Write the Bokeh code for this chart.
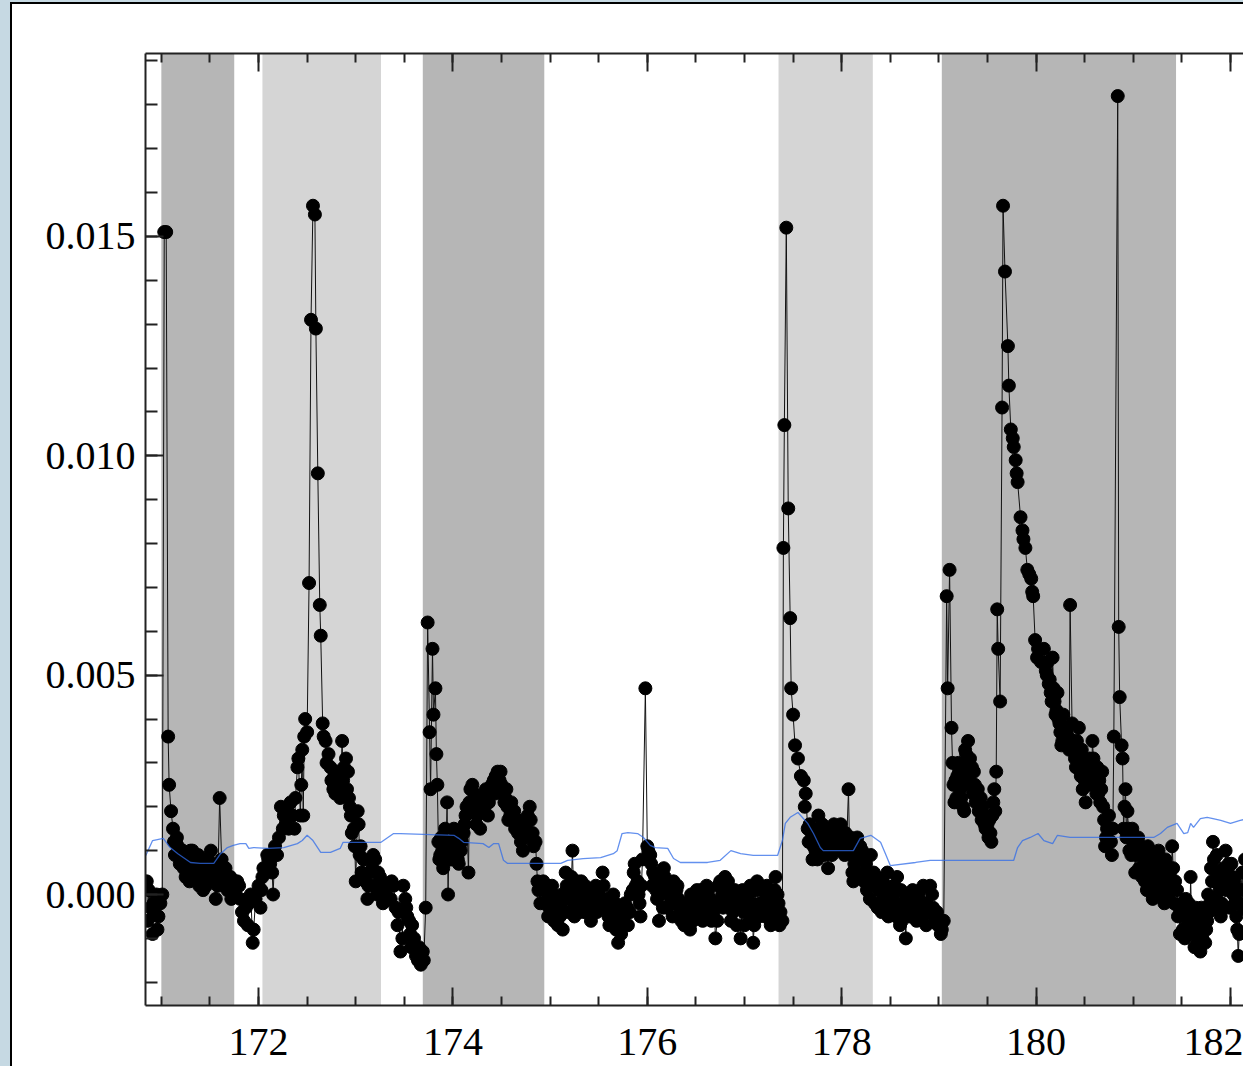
import numpy as np
from bokeh.plotting import figure
from bokeh.layouts import column, row
from bokeh.models import (BoxAnnotation, LinearAxis, Range1d, FixedTicker, Div,
                          PrintfTickFormatter, CustomJSTickFormatter, ColumnDataSource)
from bokeh.embed import file_html
from bokeh.resources import INLINE

# ---------------- data ----------------
# time (day) and flux values of the black series
series = [
    (170.85, 0.0003), (170.87, 0.0001), (170.89, -0.0003), (170.91, -0.0009), (170.93, -0.0004),
    (170.95, 0.0000), (170.97, -0.0005), (170.99, -0.0002), (171.01, 0.0000), (171.03, 0.0151),
    (171.05, 0.0151), (171.07, 0.0036), (171.08, 0.0025), (171.10, 0.0019), (171.12, 0.0015),
    (171.13, 0.0012), (171.15, 0.0012), (171.17, 0.0011), (171.20, 0.0009), (171.21, 0.0008),
    (171.23, 0.0006), (171.25, 0.0004), (171.28, 0.0008), (171.30, 0.0010), (171.32, 0.0010),
    (171.33, 0.0005), (171.36, 0.0007), (171.38, 0.0009), (171.40, 0.0006), (171.43, 0.0001),
    (171.45, 0.0004), (171.48, 0.0008), (171.51, 0.0010), (171.53, 0.0005), (171.56, -0.0001),
    (171.58, 0.0002), (171.60, 0.0022), (171.62, 0.0008), (171.64, 0.0003), (171.66, 0.0006),
    (171.68, 0.0001), (171.71, 0.0004), (171.74, 0.0000), (171.76, 0.0001), (171.78, 0.0003),
    (171.81, -0.0001), (171.83, -0.0004), (171.85, -0.0006), (171.89, -0.0007), (171.92, 0.0000),
    (171.94, -0.0011), (171.95, -0.0008), (171.97, -0.0001), (172.00, 0.0002), (172.02, -0.0003),
    (172.04, 0.0004), (172.05, 0.0006), (172.09, 0.0009), (172.10, 0.0008), (172.14, 0.0005),
    (172.15, 0.0000), (172.17, 0.0011), (172.21, 0.0013), (172.23, 0.0020), (172.26, 0.0018),
    (172.28, 0.0016), (172.31, 0.0015), (172.35, 0.0018), (172.38, 0.0022), (172.40, 0.0029),
    (172.41, 0.0031), (172.43, 0.0018), (172.46, 0.0018), (172.47, 0.0036), (172.48, 0.0040),
    (172.50, 0.0037), (172.52, 0.0071), (172.54, 0.0131), (172.56, 0.0157), (172.58, 0.0155),
    (172.59, 0.0129), (172.61, 0.0096), (172.63, 0.0066), (172.64, 0.0059), (172.66, 0.0039),
    (172.67, 0.0036), (172.69, 0.0035), (172.72, 0.0032), (172.74, 0.0029), (172.77, 0.0024),
    (172.79, 0.0023), (172.81, 0.0028), (172.84, 0.0022), (172.86, 0.0035), (172.87, 0.0026),
    (172.90, 0.0031), (172.92, 0.0028), (172.93, 0.0022), (172.95, 0.0018), (172.98, 0.0015),
    (173.00, 0.0003), (173.02, 0.0019), (173.03, 0.0016), (173.05, 0.0011), (173.08, 0.0008),
    (173.12, -0.0001), (173.15, 0.0005), (173.18, 0.0009), (173.20, 0.0008), (173.23, 0.0005),
    (173.26, 0.0003), (173.29, 0.0000), (173.31, 0.0002), (173.34, -0.0001), (173.37, 0.0003),
    (173.39, 0.0002), (173.41, -0.0003), (173.43, -0.0007), (173.46, -0.0013), (173.49, 0.0002),
    (173.51, -0.0001), (173.53, -0.0005), (173.56, -0.0009), (173.58, -0.0007), (173.60, -0.0010),
    (173.62, -0.0014), (173.65, -0.0012), (173.67, -0.0016), (173.70, -0.0015), (173.72, -0.0003),
    (173.74, 0.0062), (173.76, 0.0037), (173.77, 0.0024), (173.79, 0.0056), (173.80, 0.0041),
    (173.82, 0.0047), (173.83, 0.0032), (173.84, 0.0025), (173.85, 0.0012), (173.87, 0.0009),
    (173.89, 0.0010), (173.92, 0.0015), (173.94, 0.0021), (173.95, 0.0000), (173.97, 0.0008),
    (173.99, 0.0008), (174.01, 0.0015), (174.03, 0.0011), (174.05, 0.0008), (174.06, 0.0007),
    (174.09, 0.0012), (174.11, 0.0014), (174.13, 0.0018), (174.16, 0.0005), (174.18, 0.0024),
    (174.21, 0.0021), (174.23, 0.0019), (174.25, 0.0018), (174.28, 0.0015), (174.31, 0.0021),
    (174.33, 0.0022), (174.36, 0.0018), (174.39, 0.0023), (174.42, 0.0026), (174.44, 0.0027),
    (174.46, 0.0028), (174.49, 0.0028), (174.52, 0.0024), (174.54, 0.0022), (174.56, 0.0020),
    (174.59, 0.0018), (174.62, 0.0017), (174.64, 0.0015), (174.67, 0.0014), (174.70, 0.0012),
    (174.72, 0.0010), (174.75, 0.0016), (174.79, 0.0020), (174.82, 0.0014), (174.85, 0.0012),
    (174.87, 0.0003), (174.88, 0.0001), (174.91, 0.0002), (174.93, 0.0003), (174.97, -0.0001),
    (174.98, -0.0005), (175.01, -0.0002), (175.03, 0.0000), (175.06, -0.0004), (175.08, -0.0007),
    (175.11, -0.0003), (175.13, -0.0008), (175.16, 0.0005), (175.18, -0.0001), (175.21, 0.0002),
    (175.23, 0.0010), (175.24, 0.0001), (175.26, -0.0002), (175.28, 0.0003), (175.31, 0.0001),
    (175.33, -0.0001), (175.36, 0.0002), (175.39, -0.0002), (175.42, -0.0006), (175.45, -0.0001),
    (175.48, -0.0004), (175.50, 0.0000), (175.54, 0.0005), (175.57, -0.0003), (175.60, -0.0005),
    (175.62, -0.0002), (175.65, 0.0000), (175.68, -0.0008), (175.70, -0.0011), (175.72, -0.0007),
    (175.74, -0.0004), (175.77, -0.0002), (175.80, -0.0007), (175.83, 0.0000), (175.86, 0.0005),
    (175.88, 0.0002), (175.91, 0.0000), (175.93, -0.0005), (175.95, 0.0008), (175.98, 0.0047),
    (176.00, 0.0011), (176.01, 0.0010), (176.04, 0.0007), (176.06, 0.0005), (176.09, 0.0001),
    (176.12, -0.0006), (176.14, 0.0003), (176.17, 0.0006), (176.19, 0.0002), (176.21, 0.0000),
    (176.24, -0.0002), (176.27, 0.0003), (176.30, 0.0001), (176.32, -0.0001), (176.35, -0.0006),
    (176.37, -0.0004), (176.40, -0.0002), (176.44, -0.0008), (176.46, -0.0005), (176.48, -0.0002),
    (176.51, 0.0001), (176.53, 0.0000), (176.56, -0.0002), (176.58, -0.0004), (176.61, 0.0002),
    (176.65, -0.0001), (176.68, -0.0004), (176.70, -0.0010), (176.73, 0.0002), (176.77, 0.0000),
    (176.80, 0.0004), (176.82, 0.0001), (176.84, -0.0001), (176.88, -0.0004), (176.91, -0.0002),
    (176.93, 0.0000), (176.96, -0.0010), (176.99, -0.0004), (177.02, -0.0001), (177.04, 0.0000),
    (177.07, -0.0005), (177.09, -0.0011), (177.11, -0.0003), (177.13, 0.0003), (177.16, -0.0002),
    (177.19, 0.0001), (177.22, 0.0000), (177.24, -0.0003), (177.27, -0.0007), (177.30, -0.0002),
    (177.32, 0.0004), (177.35, -0.0002), (177.37, -0.0004), (177.39, -0.0006), (177.40, 0.0079),
    (177.41, 0.0107), (177.43, 0.0152), (177.45, 0.0088), (177.47, 0.0063), (177.48, 0.0047),
    (177.50, 0.0041), (177.52, 0.0034), (177.55, 0.0031), (177.58, 0.0027), (177.61, 0.0026),
    (177.62, 0.0020), (177.65, 0.0015), (177.66, 0.0012), (177.69, 0.0014), (177.71, 0.0011),
    (177.73, 0.0010), (177.75, 0.0008), (177.76, 0.0018), (177.78, 0.0015), (177.81, 0.0013),
    (177.83, 0.0011), (177.86, 0.0006), (177.88, 0.0013), (177.90, 0.0009), (177.92, 0.0016),
    (177.94, 0.0013), (177.96, 0.0012), (177.99, 0.0016), (178.02, 0.0013), (178.05, 0.0011),
    (178.07, 0.0024), (178.09, 0.0013), (178.11, 0.0005), (178.12, 0.0003), (178.14, 0.0010),
    (178.16, 0.0013), (178.19, 0.0011), (178.22, 0.0008), (178.24, 0.0005), (178.26, 0.0001),
    (178.30, 0.0009), (178.33, 0.0005), (178.35, 0.0002), (178.37, -0.0003), (178.40, 0.0002),
    (178.43, 0.0000), (178.45, -0.0002), (178.47, 0.0005), (178.50, -0.0004), (178.53, 0.0000),
    (178.55, -0.0002), (178.57, 0.0004), (178.60, -0.0007), (178.63, -0.0003), (178.66, -0.0010),
    (178.69, 0.0000), (178.72, -0.0002), (178.74, -0.0004), (178.79, -0.0001), (178.82, -0.0003),
    (178.84, 0.0002), (178.88, -0.0004), (178.91, 0.0002), (178.94, -0.0003), (178.97, -0.0005),
    (178.99, -0.0007), (179.02, -0.0009), (179.05, -0.0006), (179.08, 0.0068), (179.09, 0.0047),
    (179.11, 0.0074), (179.13, 0.0038), (179.14, 0.0030), (179.16, 0.0021), (179.17, 0.0026),
    (179.20, 0.0030), (179.22, 0.0024), (179.25, 0.0020), (179.30, 0.0035), (179.32, 0.0031),
    (179.36, 0.0028), (179.40, 0.0024), (179.43, 0.0022), (179.46, 0.0018), (179.50, 0.0016),
    (179.53, 0.0014), (179.56, 0.0021), (179.58, 0.0019), (179.59, 0.0028), (179.60, 0.0065),
    (179.61, 0.0056), (179.63, 0.0044), (179.65, 0.0111), (179.66, 0.0157), (179.68, 0.0142),
    (179.71, 0.0125), (179.72, 0.0116), (179.74, 0.0106), (179.76, 0.0104), (179.77, 0.0102),
    (179.79, 0.0099), (179.80, 0.0096), (179.81, 0.0094), (179.84, 0.0086), (179.86, 0.0083),
    (179.87, 0.0081), (179.89, 0.0079), (179.91, 0.0074), (179.93, 0.0073), (179.95, 0.0072),
    (179.96, 0.0069), (179.97, 0.0068), (179.99, 0.0058), (180.01, 0.0054), (180.02, 0.0056),
    (180.05, 0.0053), (180.08, 0.0056), (180.10, 0.0051), (180.12, 0.0053), (180.13, 0.0048),
    (180.17, 0.0054), (180.18, 0.0047), (180.20, 0.0041), (180.22, 0.0046), (180.23, 0.0040),
    (180.25, 0.0037), (180.27, 0.0035), (180.28, 0.0041), (180.30, 0.0037), (180.32, 0.0038),
    (180.35, 0.0066), (180.37, 0.0039), (180.38, 0.0035), (180.40, 0.0031), (180.44, 0.0038),
    (180.45, 0.0030), (180.48, 0.0024), (180.49, 0.0031), (180.51, 0.0021), (180.53, 0.0029),
    (180.56, 0.0028), (180.58, 0.0035), (180.59, 0.0031), (180.61, 0.0025), (180.63, 0.0029),
    (180.64, 0.0023), (180.68, 0.0028), (180.69, 0.0020), (180.71, 0.0011), (180.73, 0.0015),
    (180.76, 0.0015), (180.79, 0.0015), (180.80, 0.0036), (180.84, 0.0182), (180.85, 0.0061),
    (180.86, 0.0045), (180.88, 0.0034), (180.89, 0.0031), (180.90, 0.0015), (180.92, 0.0024),
    (180.94, 0.0019), (180.95, 0.0015), (180.97, 0.0013), (181.00, 0.0013), (181.02, 0.0005),
    (181.04, 0.0011), (181.07, 0.0009), (181.10, 0.0006), (181.15, 0.0011), (181.18, 0.0005),
    (181.20, -0.0001), (181.23, 0.0009), (181.26, 0.0010), (181.28, 0.0005), (181.31, 0.0003),
    (181.33, 0.0008), (181.35, 0.0006), (181.36, 0.0000), (181.38, 0.0004), (181.40, 0.0011),
    (181.43, 0.0003), (181.45, 0.0001), (181.46, -0.0005), (181.49, -0.0004), (181.51, -0.0008),
    (181.54, -0.0001), (181.56, -0.0007), (181.59, 0.0004), (181.61, -0.0004), (181.64, -0.0003),
    (181.66, -0.0010), (181.69, -0.0013), (181.72, -0.0008), (181.74, -0.0011), (181.76, -0.0006),
    (181.79, -0.0002), (181.82, 0.0012), (181.84, 0.0003), (181.87, 0.0005), (181.90, -0.0005),
    (181.92, 0.0002), (181.95, 0.0010), (181.98, 0.0007), (182.02, 0.0004), (182.03, 0.0000),
    (182.05, -0.0002), (182.07, -0.0008), (182.08, -0.0014), (182.10, -0.0002), (182.12, 0.0005),
    (182.15, 0.0008),
]
# further samples read from the dense clusters of points
series_extra = [
    (170.86, -0.0006), (170.92, -0.0002), (170.96, -0.0008),
    (171.14, 0.0009), (171.16, 0.0013), (171.19, 0.0007), (171.22, 0.0010), (171.24, 0.0008),
    (171.27, 0.0005), (171.29, 0.0003), (171.31, 0.0007), (171.35, 0.0009), (171.37, 0.0004),
    (171.39, 0.0002), (171.42, 0.0005), (171.44, 0.0008), (171.46, 0.0002), (171.47, 0.0006),
    (171.50, 0.0003), (171.52, 0.0007), (171.55, 0.0003), (171.57, 0.0006), (171.63, 0.0005),
    (171.65, 0.0002), (171.67, 0.0004), (171.70, 0.0001), (171.72, -0.0001), (171.75, 0.0003),
    (171.80, 0.0002), (171.87, -0.0003), (171.90, -0.0002),
    (172.03, 0.0001), (172.07, 0.0006), (172.12, 0.0007), (172.19, 0.0009), (172.25, 0.0015),
    (172.30, 0.0019), (172.33, 0.0021), (172.37, 0.0015), (172.44, 0.0025), (172.45, 0.0033),
    (172.70, 0.0030), (172.75, 0.0026), (172.78, 0.0027), (172.82, 0.0025), (172.88, 0.0029),
    (172.91, 0.0024), (172.94, 0.0020), (172.96, 0.0014), (172.99, 0.0011),
    (173.04, 0.0009), (173.06, 0.0005), (173.10, 0.0003), (173.13, 0.0002), (173.17, 0.0006),
    (173.19, 0.0002), (173.22, 0.0000), (173.25, 0.0004), (173.28, -0.0002), (173.33, 0.0002),
    (173.36, -0.0001), (173.44, -0.0004), (173.48, -0.0010), (173.52, -0.0003), (173.55, -0.0006),
    (173.57, -0.0012), (173.64, -0.0015), (173.69, -0.0013),
    (173.86, 0.0008), (173.88, 0.0013), (173.90, 0.0006), (173.93, 0.0011), (173.96, 0.0012),
    (174.00, 0.0010), (174.02, 0.0013), (174.04, 0.0009), (174.08, 0.0010), (174.12, 0.0016),
    (174.14, 0.0020), (174.17, 0.0021), (174.19, 0.0019), (174.20, 0.0025), (174.22, 0.0023),
    (174.24, 0.0016), (174.27, 0.0020), (174.29, 0.0022), (174.32, 0.0019), (174.34, 0.0024),
    (174.37, 0.0021), (174.40, 0.0025), (174.43, 0.0023), (174.45, 0.0025), (174.48, 0.0026),
    (174.50, 0.0025), (174.53, 0.0021), (174.55, 0.0024), (174.57, 0.0017), (174.60, 0.0021),
    (174.63, 0.0019), (174.66, 0.0017), (174.68, 0.0016), (174.71, 0.0015), (174.74, 0.0013),
    (174.77, 0.0018), (174.80, 0.0017), (174.83, 0.0011), (174.86, 0.0007),
    (174.90, -0.0002), (174.95, 0.0001), (174.99, -0.0003), (175.02, 0.0002), (175.04, -0.0006),
    (175.07, -0.0001), (175.10, -0.0005), (175.12, 0.0000), (175.15, -0.0004), (175.17, 0.0002),
    (175.20, -0.0004), (175.22, 0.0004), (175.25, -0.0005), (175.27, 0.0001), (175.30, -0.0004),
    (175.32, 0.0003), (175.35, -0.0004), (175.37, -0.0001), (175.40, 0.0001), (175.41, -0.0004),
    (175.44, -0.0003), (175.47, 0.0002), (175.49, -0.0002), (175.52, -0.0003), (175.55, 0.0002),
    (175.59, -0.0001), (175.61, -0.0007), (175.64, -0.0004), (175.67, -0.0002), (175.69, -0.0005),
    (175.73, -0.0009), (175.76, -0.0005), (175.79, -0.0003), (175.82, -0.0004), (175.85, 0.0001),
    (175.87, 0.0007), (175.90, 0.0003), (175.92, -0.0002), (175.94, 0.0002), (176.03, 0.0009),
    (176.05, 0.0002), (176.08, 0.0004), (176.10, -0.0001), (176.13, 0.0000), (176.16, -0.0003),
    (176.18, 0.0004), (176.20, -0.0003), (176.23, 0.0001), (176.26, -0.0005), (176.29, -0.0002),
    (176.31, 0.0002), (176.34, -0.0003), (176.38, -0.0007), (176.42, -0.0004), (176.45, 0.0000),
    (176.47, -0.0006), (176.50, -0.0003), (176.52, -0.0005), (176.55, 0.0001), (176.57, -0.0006),
    (176.60, -0.0002), (176.63, 0.0001), (176.66, -0.0006), (176.69, -0.0002), (176.72, -0.0006),
    (176.75, 0.0003), (176.78, -0.0003), (176.81, -0.0002), (176.83, 0.0003), (176.86, -0.0006),
    (176.90, 0.0001), (176.92, -0.0007), (176.95, -0.0002), (176.98, 0.0001), (177.00, -0.0007),
    (177.03, -0.0003), (177.06, 0.0002), (177.08, -0.0002), (177.10, -0.0007), (177.12, 0.0001),
    (177.15, -0.0005), (177.18, -0.0003), (177.21, -0.0005), (177.23, 0.0002), (177.26, -0.0001),
    (177.29, -0.0005), (177.31, 0.0001), (177.34, 0.0000), (177.36, -0.0007),
    (177.63, 0.0023), (177.67, 0.0016), (177.70, 0.0008), (177.72, 0.0013), (177.74, 0.0012),
    (177.77, 0.0010), (177.80, 0.0016), (177.82, 0.0009), (177.85, 0.0010), (177.87, 0.0015),
    (177.89, 0.0011), (177.91, 0.0012), (177.93, 0.0010), (177.95, 0.0015), (177.98, 0.0011),
    (178.00, 0.0014), (178.03, 0.0009), (178.04, 0.0014), (178.08, 0.0011), (178.10, 0.0009),
    (178.13, 0.0007), (178.15, 0.0005), (178.18, 0.0008), (178.20, 0.0004), (178.21, 0.0010),
    (178.23, 0.0003), (178.25, 0.0007), (178.28, 0.0004), (178.29, -0.0001), (178.31, 0.0003),
    (178.34, -0.0002), (178.36, 0.0004), (178.38, 0.0001), (178.41, -0.0004), (178.42, 0.0003),
    (178.44, -0.0001), (178.46, 0.0002), (178.48, -0.0005), (178.49, 0.0001), (178.52, -0.0003),
    (178.54, 0.0002), (178.56, -0.0005), (178.58, -0.0002), (178.61, 0.0001), (178.62, -0.0006),
    (178.65, -0.0004), (178.67, -0.0001), (178.70, -0.0005), (178.71, -0.0002), (178.73, 0.0001),
    (178.76, -0.0003), (178.77, -0.0006), (178.80, -0.0004), (178.81, 0.0001), (178.83, -0.0005),
    (178.86, -0.0002), (178.87, -0.0007), (178.90, -0.0003), (178.93, 0.0000), (178.96, -0.0006),
    (178.98, -0.0004), (179.00, -0.0006), (179.03, -0.0008),
    (179.15, 0.0025), (179.18, 0.0022), (179.19, 0.0027), (179.21, 0.0028), (179.23, 0.0022),
    (179.24, 0.0026), (179.26, 0.0019), (179.27, 0.0033), (179.28, 0.0032), (179.29, 0.0029),
    (179.31, 0.0027), (179.33, 0.0025), (179.34, 0.0029), (179.35, 0.0023), (179.37, 0.0025),
    (179.38, 0.0021), (179.39, 0.0023), (179.41, 0.0019), (179.42, 0.0021), (179.44, 0.0017),
    (179.45, 0.0020), (179.47, 0.0016), (179.48, 0.0015), (179.51, 0.0013), (179.52, 0.0017),
    (179.54, 0.0012), (179.55, 0.0018), (179.57, 0.0024),
    (180.11, 0.0050), (180.14, 0.0049), (180.15, 0.0046), (180.16, 0.0044), (180.19, 0.0044),
    (180.21, 0.0042), (180.24, 0.0039), (180.26, 0.0034), (180.29, 0.0036), (180.31, 0.0034),
    (180.33, 0.0036), (180.34, 0.0033), (180.39, 0.0033), (180.41, 0.0029), (180.42, 0.0035),
    (180.43, 0.0032), (180.46, 0.0027), (180.47, 0.0033), (180.50, 0.0026), (180.52, 0.0030),
    (180.54, 0.0025), (180.55, 0.0031), (180.57, 0.0026), (180.60, 0.0027), (180.62, 0.0023),
    (180.65, 0.0026), (180.66, 0.0021), (180.67, 0.0024), (180.70, 0.0017), (180.72, 0.0013),
    (180.74, 0.0012), (180.75, 0.0018), (180.77, 0.0012), (180.78, 0.0009),
    (180.91, 0.0020), (180.93, 0.0013), (180.96, 0.0010), (180.98, 0.0009), (180.99, 0.0015),
    (181.01, 0.0012), (181.03, 0.0009), (181.05, 0.0013), (181.06, 0.0006), (181.08, 0.0011),
    (181.09, 0.0004), (181.11, 0.0009), (181.12, 0.0003), (181.13, 0.0007), (181.14, 0.0001),
    (181.16, 0.0008), (181.17, 0.0003), (181.19, 0.0006), (181.21, 0.0004), (181.22, 0.0002),
    (181.24, 0.0006), (181.25, 0.0001), (181.27, 0.0007), (181.29, 0.0000), (181.30, 0.0006),
    (181.32, -0.0002), (181.34, 0.0002), (181.37, 0.0006), (181.39, 0.0001), (181.41, 0.0006),
    (181.42, -0.0002),
    (181.47, -0.0003), (181.48, -0.0009), (181.50, -0.0002), (181.52, -0.0005), (181.53, -0.0010),
    (181.55, -0.0004), (181.57, -0.0002), (181.58, -0.0009), (181.60, -0.0006), (181.62, -0.0008),
    (181.63, -0.0012), (181.65, -0.0006), (181.67, -0.0004), (181.68, -0.0008), (181.70, -0.0003),
    (181.71, -0.0010), (181.73, -0.0005), (181.75, -0.0008), (181.77, 0.0000), (181.78, -0.0004),
    (181.80, 0.0006), (181.81, 0.0003), (181.83, 0.0008), (181.85, -0.0001), (181.86, 0.0009),
    (181.88, -0.0003), (181.89, 0.0001), (181.91, -0.0002), (181.93, 0.0006), (181.94, 0.0004),
    (181.96, 0.0001), (181.97, 0.0005), (181.99, -0.0003), (182.00, 0.0002), (182.01, 0.0007),
    (182.04, 0.0003), (182.06, -0.0005), (182.09, -0.0009), (182.11, 0.0001), (182.13, -0.0003),
]
all_points = sorted(series + series_extra, key=lambda q: q[0])
time = [q[0] for q in all_points]
flux = [q[1] for q in all_points]

# blue reference line
blue_time = [170.84, 170.91, 171.02, 171.09, 171.17, 171.30, 171.40, 171.54, 171.61, 171.68,
             171.74, 171.81, 171.87, 171.90, 171.95, 172.09, 172.26, 172.40, 172.45, 172.50,
             172.56, 172.64, 172.74, 172.84, 172.87, 173.26, 173.39, 173.46, 174.01, 174.06,
             174.11, 174.31, 174.37, 174.42, 174.47, 174.52, 174.56, 175.11, 175.18, 175.34,
             175.52, 175.65, 175.69, 175.74, 175.80, 175.90, 175.96, 176.03, 176.08, 176.21,
             176.27, 176.34, 176.62, 176.75, 176.86, 176.96, 177.09, 177.34, 177.39, 177.42,
             177.47, 177.55, 177.65, 177.71, 177.78, 177.81, 178.12, 178.19, 178.30, 178.40,
             178.45, 178.50, 178.76, 178.91, 179.77, 179.81, 179.86, 179.94, 180.02, 180.08,
             180.17, 180.22, 180.35, 181.21, 181.28, 181.35, 181.45, 181.52, 181.56, 181.59,
             181.62, 181.69, 181.76, 181.82, 181.90, 182.00, 182.10, 182.18]
blue_flux = [0.00089, 0.00123, 0.00128, 0.00107, 0.00093, 0.00073, 0.00071, 0.00071, 0.00093, 0.00107,
             0.00112, 0.00116, 0.00116, 0.00105, 0.00107, 0.00105, 0.00107, 0.00116, 0.00123, 0.00135,
             0.00123, 0.00096, 0.00096, 0.00105, 0.00119, 0.00119, 0.00139, 0.00139, 0.00135, 0.00128,
             0.00119, 0.00116, 0.00107, 0.00116, 0.00116, 0.00078, 0.00071, 0.00071, 0.00078, 0.00082,
             0.00084, 0.00093, 0.00100, 0.00139, 0.00141, 0.00139, 0.00130, 0.00112, 0.00107, 0.00105,
             0.00082, 0.00073, 0.00073, 0.00078, 0.00100, 0.00093, 0.00089, 0.00089, 0.00123, 0.00162,
             0.00176, 0.00187, 0.00162, 0.00139, 0.00107, 0.00100, 0.00100, 0.00128, 0.00135, 0.00119,
             0.00093, 0.00066, 0.00073, 0.00078, 0.00078, 0.00107, 0.00123, 0.00130, 0.00139, 0.00123,
             0.00116, 0.00135, 0.00130, 0.00130, 0.00139, 0.00153, 0.00162, 0.00139, 0.00141, 0.00162,
             0.00153, 0.00173, 0.00176, 0.00173, 0.00169, 0.00162, 0.00169, 0.00173]

# shaded intervals
band_start = [171.00, 172.04, 173.69, 177.35, 179.03]
band_end = [171.75, 173.26, 174.94, 178.32, 181.44]
band_shade = ["dark", "light", "dark", "light", "dark"]

x_ticks = [172, 174, 176, 178, 180, 182]
y_ticks = [0.000, 0.005, 0.010, 0.015]

# ---------------- page frame (light blue margin with black edge) ----------------
FRAME_BLUE = "#c6d9e3"

def block(w, h, color):
    return Div(text="", width=w, height=h, margin=(0, 0, 0, 0),
               styles={"background-color": color, "padding": "0px"})

# ---------------- main figure ----------------
p = figure(width=1231, height=1062, output_backend="svg", toolbar_location=None,
           x_range=Range1d(170.837, 182.134), y_range=Range1d(-0.00253, 0.01917),
           x_axis_location=None, y_axis_location=None,
           min_border_left=133, min_border_right=0, min_border_top=49, min_border_bottom=61)
p.margin = (0, 0, 0, 0)
p.background_fill_color = "white"
p.border_fill_color = "white"
p.outline_line_color = None
p.grid.visible = False

shade_colors = {"dark": "#b6b6b6", "light": "#d5d5d5"}
for s, e, k in zip(band_start, band_end, band_shade):
    p.add_layout(BoxAnnotation(left=s, right=e, fill_color=shade_colors[k], fill_alpha=1.0,
                               line_color=None, level="underlay"))

src = ColumnDataSource(dict(t=time, f=flux))
p.line("t", "f", source=src, line_color="#111111", line_width=1)
p.scatter("t", "f", source=src, marker="circle", size=13, fill_color="black", line_color="black")
p.line(blue_time, blue_flux, line_color="#2f6be8", line_width=1.3, line_alpha=0.75)

font = "Liberation Serif"

def style_axis(ax, minor_in):
    ax.axis_line_color = "#222222"
    ax.axis_line_width = 2
    ax.major_tick_in = 18
    ax.major_tick_out = 0
    ax.minor_tick_in = minor_in
    ax.minor_tick_out = 0
    ax.major_tick_line_color = "#222222"
    ax.minor_tick_line_color = "#222222"
    ax.major_tick_line_width = 2
    ax.minor_tick_line_width = 2
    ax.major_label_text_font = font
    ax.major_label_text_font_size = "40px"
    ax.major_label_text_color = "black"

minor_x = [171.0 + 0.5 * i for i in range(24)]
minor_y = [round(-0.002 + 0.001 * i, 3) for i in range(22)]

xb = LinearAxis(ticker=FixedTicker(ticks=x_ticks, minor_ticks=minor_x))
style_axis(xb, 9)
xb.major_label_standoff = 23
p.add_layout(xb, "below")

xt = LinearAxis(ticker=FixedTicker(ticks=x_ticks, minor_ticks=minor_x),
                formatter=CustomJSTickFormatter(code="return ''"))
style_axis(xt, 9)
xt.major_label_text_font_size = "1px"
xt.major_label_standoff = 0
p.add_layout(xt, "above")

yl = LinearAxis(ticker=FixedTicker(ticks=y_ticks, minor_ticks=minor_y),
                formatter=PrintfTickFormatter(format="%.3f"))
style_axis(yl, 12)
yl.major_label_standoff = 10
p.add_layout(yl, "left")

layout = row(
    block(10, 1066, FRAME_BLUE),
    column(
        block(1233, 2, FRAME_BLUE),
        block(1233, 2, "black"),
        row(block(2, 1062, "black"), p, spacing=0),
        spacing=0,
    ),
    spacing=0,
)
open("out.html", "w").write(file_html(layout, INLINE))
